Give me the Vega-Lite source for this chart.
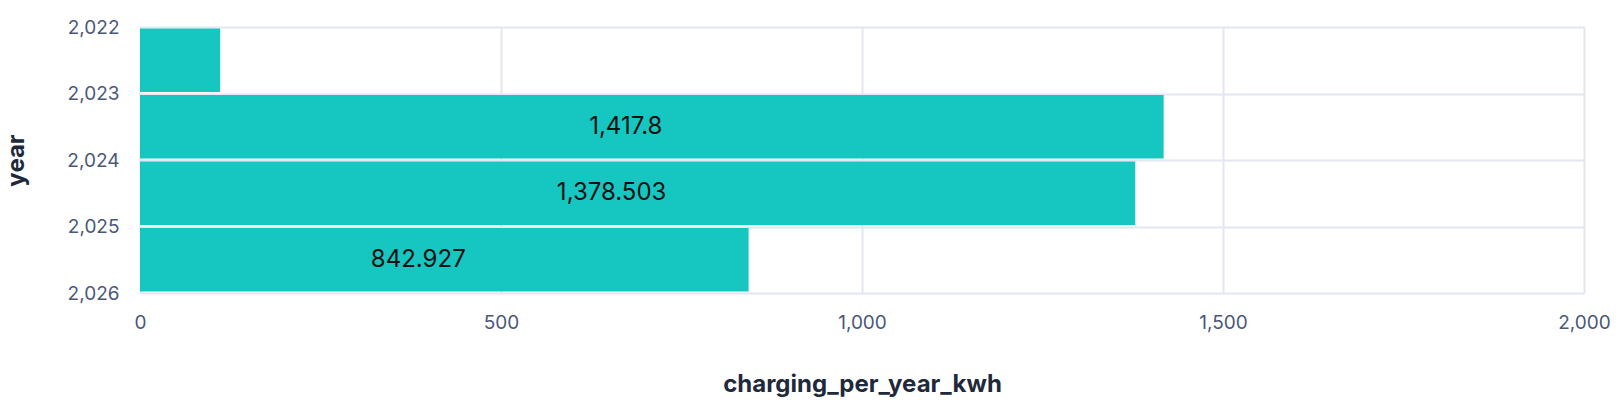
{
  "$schema": "https://vega.github.io/schema/vega-lite/v6.json",
  "width": 1444,
  "height": 266,
  "autosize": {"type": "none"},
  "padding": {"left": 140, "top": 27, "right": 40, "bottom": 113},
  "background": "white",
  "config": {
    "font": "Inter",
    "view": {"stroke": null},
    "axis": {
      "labelFont": "Inter",
      "titleFont": "Inter",
      "labelColor": "#4a5878",
      "titleColor": "#1e2a3b",
      "labelFontSize": 19,
      "titleFontSize": 24,
      "titleFontWeight": "bold",
      "gridColor": "#e4e6f2",
      "gridWidth": 2,
      "domain": false,
      "ticks": false,
      "labelOverlap": false,
      "labelFlush": false
    }
  },
  "data": {
    "values": [
      {"year": 2022, "year_end": 2023, "charging_per_year_kwh": 111},
      {"year": 2023, "year_end": 2024, "charging_per_year_kwh": 1417.8},
      {"year": 2024, "year_end": 2025, "charging_per_year_kwh": 1378.503},
      {"year": 2025, "year_end": 2026, "charging_per_year_kwh": 842.927}
    ]
  },
  "layer": [
    {
      "mark": {"type": "bar", "color": "#16c6c0", "yOffset": 1.5, "y2Offset": -1.5},
      "encoding": {
        "y": {
          "field": "year",
          "type": "quantitative",
          "scale": {"domain": [2022, 2026], "reverse": true, "nice": false, "zero": false},
          "axis": {"values": [2022, 2023, 2024, 2025, 2026], "format": ",d", "labelPadding": 21, "title": "year", "titleX": -112, "labelBaseline": "middle"}
        },
        "y2": {"field": "year_end"},
        "x": {
          "field": "charging_per_year_kwh",
          "type": "quantitative",
          "scale": {"domain": [0, 2000], "nice": false},
          "axis": {"values": [0, 500, 1000, 1500, 2000], "format": ",d", "labelPadding": 20, "title": "charging_per_year_kwh", "titleY": 79}
        },
        "x2": {"datum": 0}
      }
    },
    {
      "transform": [
        {"filter": "datum.charging_per_year_kwh > 200"},
        {"calculate": "(datum.year + datum.year_end) / 2", "as": "year_mid"},
        {"calculate": "datum.charging_per_year_kwh / 2", "as": "half"}
      ],
      "mark": {"type": "text", "fontSize": 24, "color": "#111111", "align": "center", "baseline": "middle", "dx": -26, "font": "Inter"},
      "encoding": {
        "y": {"field": "year_mid", "type": "quantitative"},
        "x": {"field": "half", "type": "quantitative"},
        "text": {"field": "charging_per_year_kwh", "type": "quantitative", "format": ",.4~f"}
      }
    }
  ]
}
